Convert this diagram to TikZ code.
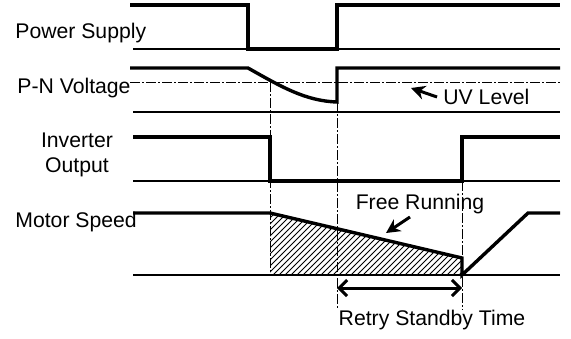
\documentclass[tikz,border=0pt]{standalone}
\usepackage{fontspec}
\setmainfont{Liberation Sans}
\usetikzlibrary{arrows.meta,patterns}

\begin{document}
\begin{tikzpicture}[x=0.5pt,y=-0.5pt,
  signal/.style={line width=1.7pt},
  base/.style={line width=0.8pt},
  guide/.style={line width=0.5pt,dash pattern=on 5pt off 1pt on 1pt off 1pt},
  lbl/.style={font=\fontsize{10.6}{12.5}\selectfont,inner sep=0pt}]
  \useasboundingbox (0,0) rectangle (571,338);

  % Power supply
  \draw[base] (133,49) -- (560,49);
  \draw[signal] (130,5) -- (248,5) -- (248,49) -- (337,49) -- (337,5) -- (560,5);
  \node[lbl,anchor=west] (supply) at (15,33) {Power Supply};

  % P-N voltage and UV level
  \draw[base] (133,112) -- (560,112);
  \draw[guide] (130,82) -- (560,82);
  \draw[signal] (130,68) -- (248,68) .. controls (280,86) and (305,101) .. (337,102) -- (337,68) -- (560,68);
  \node[lbl,anchor=west] (pnvolt) at (17,88) {P-N Voltage};

  % Inverter output
  \draw[base] (133,181) -- (560,181);
  \draw[signal] (133,137) -- (270,137) -- (270,181) -- (462,181) -- (462,137) -- (560,137);
  \node[lbl,align=center] (inverter) at (77,155) {Inverter\\Output};

  % Motor speed with shaded coasting area
  \fill[pattern=north east lines] (270,213) -- (462,258) -- (462,275) -- (270,275) -- cycle;
  \draw[base] (133,275) -- (560,275);
  \draw[signal] (133,213) -- (270,213) -- (462,258) -- (462,275) -- (528,213) -- (560,213);
  \node[lbl,anchor=west] (motor) at (15,222) {Motor Speed};

  % Timing guides
  \draw[guide] (270,82) -- (270,275);
  \draw[guide] (337,102) -- (337,310);
  \draw[guide] (462,181) -- (462,310);

  % Annotations
  \node[lbl,inner sep=3pt,anchor=west] (uv) at (437,97) {UV Level};
  \coordinate (uvtip) at (411,88);
  \draw[-{Stealth[length=7pt,width=7pt]},line width=1.5pt] (uv.west) -- (uvtip);

  \node[lbl] (freerun) at (420,204) {Free Running};
  \coordinate (frtail) at (410,217);
  \coordinate (frtip) at (386,233);
  \draw[-{Stealth[length=7pt,width=7pt]},line width=1.5pt] (frtail) -- (frtip);

  \coordinate (rsleft) at (337,288);
  \coordinate (rsright) at (462,288);
  \draw[{Straight Barb[length=4pt,width=8pt]}-{Straight Barb[length=4pt,width=8pt]},line width=1.5pt] (rsleft) -- (rsright);
  \node[lbl] (retry) at (432,320) {Retry Standby Time};
\end{tikzpicture}
\end{document}
